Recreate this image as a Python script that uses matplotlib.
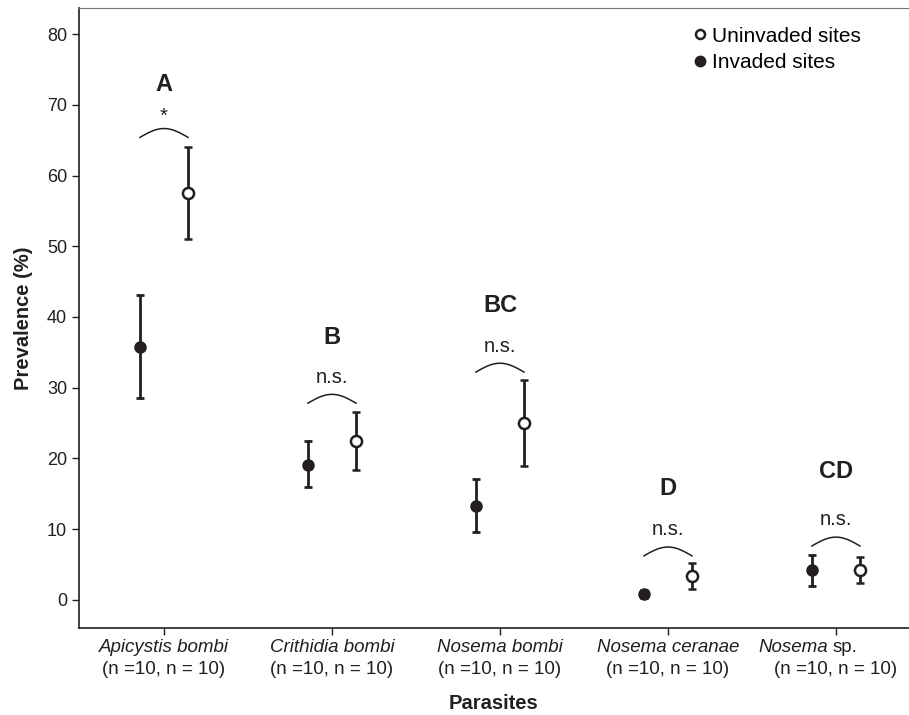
import matplotlib.pyplot as plt
import numpy as np

plt.rcParams['font.family'] = ['Liberation Sans', 'DejaVu Sans']

# data
parasites = ['Apicystis bombi', 'Crithidia bombi', 'Nosema bombi', 'Nosema ceranae', 'Nosema sp.']
n_label = '(n =10, n = 10)'

invaded = [35.8, 19.1, 13.3, 0.8, 4.2]
invaded_lo = [28.5, 15.9, 9.6, 0.3, 2.0]
invaded_hi = [43.1, 22.4, 17.1, 1.4, 6.3]

uninvaded = [57.5, 22.5, 25.0, 3.3, 4.2]
uninvaded_lo = [51.0, 18.4, 18.9, 1.5, 2.3]
uninvaded_hi = [64.0, 26.6, 31.1, 5.2, 6.0]

groups = ['A', 'B', 'BC', 'D', 'CD']
group_y = [72.9, 37.1, 41.6, 15.8, 18.1]
signif = ['*', 'n.s.', 'n.s.', 'n.s.', 'n.s.']
signif_y = [68.4, 31.5, 35.8, 9.9, 11.3]
bracket_y = [65.4, 27.8, 32.2, 6.2, 7.6]

col = '#231f20'
off = 0.143
x = np.arange(len(parasites))

fig = plt.figure(figsize=(9.09, 7.15), dpi=100)
ax = fig.add_axes([0.0869, 0.1217, 0.9131, 0.8671])

inv = np.array(invaded)
uninv = np.array(uninvaded)
ax.errorbar(x - off, inv, yerr=[inv - np.array(invaded_lo), np.array(invaded_hi) - inv],
            fmt='o', color=col, ms=8, mfc=col, mec=col, ecolor=col, elinewidth=2,
            capsize=2.7, capthick=2, zorder=3)
ax.errorbar(x + off, uninv, yerr=[uninv - np.array(uninvaded_lo), np.array(uninvaded_hi) - uninv],
            fmt='o', color=col, ms=8, mfc='white', mec=col, mew=1.8, ecolor=col, elinewidth=2,
            capsize=2.7, capthick=2, zorder=3)

# brackets, significance and group letters
t = np.linspace(0, 1, 50)
for i in range(len(parasites)):
    bx = (i - off) + t * 2 * off
    by = bracket_y[i] + 1.25 * np.sin(np.pi * t)
    ax.plot(bx, by, color=col, lw=1.1)
    ax.text(i, signif_y[i], signif[i], ha='center', va='center', fontsize=14.5, color=col)
    ax.text(i, group_y[i], groups[i], ha='center', va='center', fontsize=17,
            fontweight='bold', color=col)

ax.set_xlim(-0.506, 4.435)
ax.set_ylim(-4, 83.7)
ax.set_yticks(range(0, 81, 10))
ax.set_xticks(x)
ax.set_xticklabels([])
ax.tick_params(axis='both', direction='out', length=5, width=1, color=col,
               labelsize=13, labelcolor=col)
ax.spines['right'].set_visible(False)
ax.spines['top'].set_color('#777777')
for s in ['left', 'bottom']:
    ax.spines[s].set_color(col)
    ax.spines[s].set_linewidth(1.2)

# category labels
tr = ax.get_xaxis_transform()
for i, name in enumerate(parasites):
    if name == 'Nosema sp.':
        ax.text(3.952, -0.018, 'Nosema', transform=tr, ha='right', va='top',
                fontsize=13.5, style='italic', color=col)
        ax.text(3.982, -0.018, 'sp.', transform=tr, ha='left', va='top',
                fontsize=13.5, color=col)
    else:
        ax.text(i, -0.018, name, transform=tr, ha='center', va='top',
                fontsize=13.5, style='italic', color=col)
    ax.text(i, -0.053, n_label, transform=tr, ha='center', va='top',
            fontsize=13.5, color=col)

ax.set_xlabel('Parasites', fontsize=14.5, fontweight='bold', color=col)
ax.xaxis.set_label_coords(0.5, -0.107)
ax.set_ylabel('Prevalence (%)', fontsize=14.5, fontweight='bold', color=col)
ax.yaxis.set_label_coords(-0.0554, 0.5)

h1, = ax.plot([], [], 'o', ms=6.5, mfc='white', mec=col, mew=1.8)
h2, = ax.plot([], [], 'o', ms=7.5, mfc=col, mec=col)
ax.legend([h1, h2], ['Uninvaded sites', 'Invaded sites'], loc='upper left',
          bbox_to_anchor=(0.721, 0.997), frameon=False, fontsize=15, handlelength=0.6,
          handletextpad=0.26, labelspacing=0.35, borderpad=0.3)

fig.savefig('out.png', dpi=100)
